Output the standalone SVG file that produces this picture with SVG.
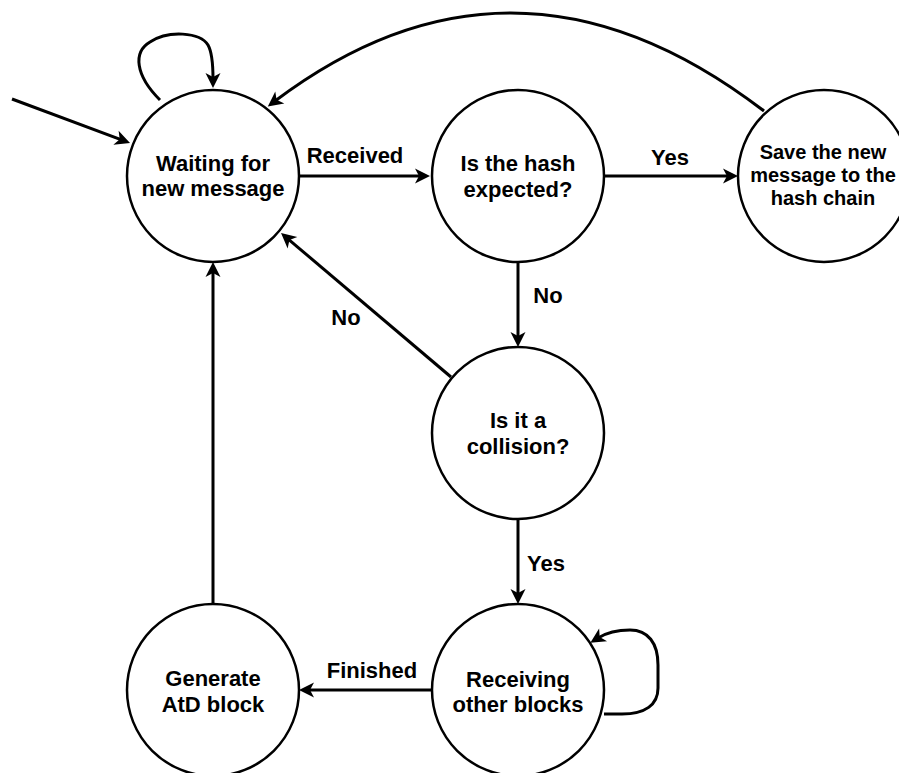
<svg xmlns="http://www.w3.org/2000/svg" width="899" height="773" viewBox="0 0 899 773">
  <defs>
    <marker id="arrow" markerUnits="userSpaceOnUse" markerWidth="16" markerHeight="16" refX="6" refY="7.5" orient="auto" overflow="visible">
      <path d="M0,0 L15,7.5 L0,15 L4,7.5 Z" fill="#000"/>
    </marker>
    <style>
      .state { fill: #fff; stroke: #000; stroke-width: 2.5; }
      .label { font-family: "Liberation Sans", Arial, Helvetica, sans-serif; font-weight: bold; font-size: 22px; fill: #000; text-anchor: middle; }
      .small { font-size: 20px; }
      .edge { fill: none; stroke: #000; stroke-width: 3; }
      .arrowed { marker-end: url(#arrow); }
    </style>
  </defs>
  <rect width="899" height="773" fill="#fff"/>

  <!-- transitions -->
  <g id="connectors">
    <!-- initial transition -->
    <path class="edge arrowed" d="M12,99 L121.6,139.9"/>
    <!-- waiting self-loop -->
    <path class="edge arrowed" d="M160,100 C 135,75 133,52 150,42 C 168,30 200,32 208,45 C 212,52 213,62 213,79"/>
    <!-- Received -->
    <path class="edge arrowed" d="M299,176 L421,176"/>
    <!-- Yes: hash expected -->
    <path class="edge arrowed" d="M604,176 L729,176"/>
    <!-- saved, back to waiting -->
    <path class="edge arrowed" d="M764,111 Q515,-80 275,101"/>
    <!-- No: hash not expected -->
    <path class="edge arrowed" d="M518,262 L518,338"/>
    <!-- No: not a collision -->
    <path class="edge arrowed" d="M451,377 L287.9,238.8"/>
    <!-- Yes: collision -->
    <path class="edge arrowed" d="M518,519 L518,595"/>
    <!-- receiving self-loop -->
    <path class="edge arrowed" d="M604,714 L622,714 C 645,714 658,705 658,688 L658,665 C 658,643 648,630 630,630 C 617,630 606,633 598,638"/>
    <!-- Finished -->
    <path class="edge arrowed" d="M432,690 L308,690"/>
    <!-- AtD block generated, back to waiting -->
    <path class="edge arrowed" d="M213,604 L213,271"/>
  </g>

  <g id="edge-labels">
    <text class="label" x="355" y="163">Received</text>
    <text class="label" x="670" y="165">Yes</text>
    <text class="label" x="548" y="303">No</text>
    <text class="label" x="346" y="325">No</text>
    <text class="label" x="546" y="571">Yes</text>
    <text class="label" x="372" y="678">Finished</text>
  </g>

  <g id="waiting">
    <circle class="state" cx="213" cy="176" r="86"/>
    <text class="label" x="213" y="171">Waiting for</text>
    <text class="label" x="213" y="196">new message</text>
  </g>

  <g id="hash-expected">
    <circle class="state" cx="518" cy="176" r="86"/>
    <text class="label" x="518" y="171">Is the hash</text>
    <text class="label" x="518" y="197">expected?</text>
  </g>

  <g id="save-message">
    <circle class="state" cx="824" cy="176" r="86"/>
    <text class="label small" x="823" y="159">Save the new</text>
    <text class="label small" x="823" y="182">message to the</text>
    <text class="label small" x="823" y="205">hash chain</text>
  </g>

  <g id="collision">
    <circle class="state" cx="518" cy="433" r="86"/>
    <text class="label" x="518" y="428">Is it a</text>
    <text class="label" x="518" y="454">collision?</text>
  </g>

  <g id="receiving">
    <circle class="state" cx="518" cy="690" r="86"/>
    <text class="label" x="518" y="687">Receiving</text>
    <text class="label" x="518" y="712">other blocks</text>
  </g>

  <g id="generate">
    <circle class="state" cx="213" cy="690" r="86"/>
    <text class="label" x="213" y="686">Generate</text>
    <text class="label" x="213" y="712">AtD block</text>
  </g>
</svg>
